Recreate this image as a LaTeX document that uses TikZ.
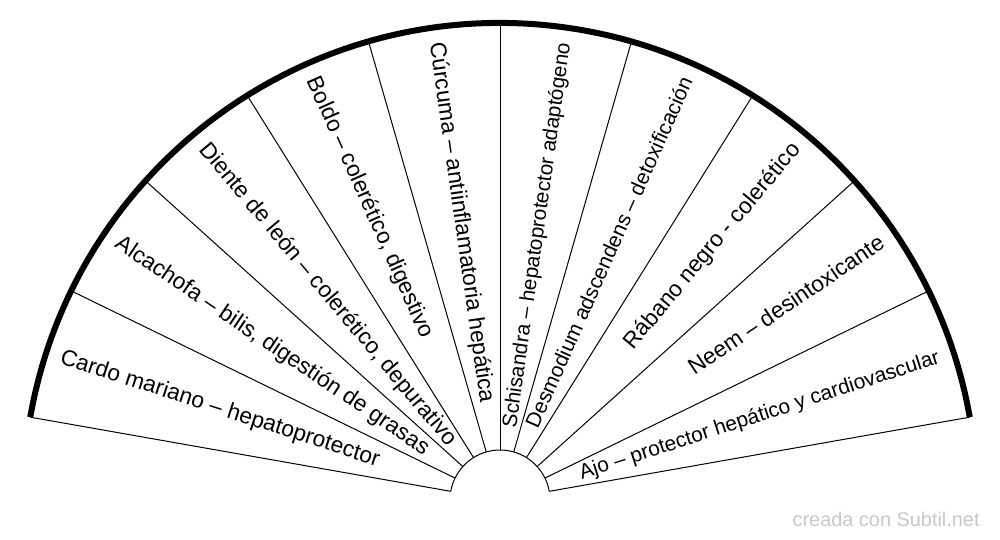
\documentclass[tikz,border=0pt]{standalone}
\usepackage{fontspec}
\setmainfont{Liberation Sans}
\tikzset{
  lbl/.style={inner sep=0pt,text height=0.8em,text depth=0.2em,font=\fontsize{11.35}{13}\selectfont},
  lblleft/.style={lbl,anchor=west},
  lblright/.style={lbl,anchor=east},
  radial/.style={line width=0.5pt}
}
\begin{document}
\begin{tikzpicture}[x=0.5pt,y=0.5pt]
                        \useasboundingbox (-500,-40) rectangle (500,500);
                        \draw[radial] (10:50) -- (10:477);
                        \draw[radial] (26:50) -- (26:477);
                        \draw[radial] (42:50) -- (42:477);
                        \draw[radial] (58:50) -- (58:477);
                        \draw[radial] (74:50) -- (74:477);
                        \draw[radial] (90:50) -- (90:477);
                        \draw[radial] (106:50) -- (106:477);
                        \draw[radial] (122:50) -- (122:477);
                        \draw[radial] (138:50) -- (138:477);
                        \draw[radial] (154:50) -- (154:477);
                        \draw[radial] (170:50) -- (170:477);
                        \draw[radial] (170:50) arc[start angle=170,end angle=10,radius=50];
                        \draw[line width=3pt] (170:477) arc[start angle=170,end angle=10,radius=477];
                        % plantas
                        \node[lblleft,rotate=-18] (cardo) at (162:462) {Cardo mariano – hepatoprotector};
                        \node[lblleft,rotate=-34] (alcachofa) at (146:462) {Alcachofa – bilis, digestión de grasas};
                        \node[lblleft,rotate=-50] (diente) at (130:462) {Diente de león – colerético, depurativo};
                        \node[lblleft,rotate=-66] (boldo) at (114:462) {Boldo – colerético, digestivo};
                        \node[lblleft,rotate=-82] (curcuma) at (98:462) {Cúrcuma – antiinflamatoria hepática};
                        \node[lblright,rotate=82,font=\fontsize{10.4}{12}\selectfont] (schisandra) at (82:462) {Schisandra – hepatoprotector adaptógeno};
                        \node[lblright,rotate=66,font=\fontsize{10.5}{12}\selectfont] (desmodium) at (66:462) {Desmodium adscendens – detoxificación};
                        \node[lblright,rotate=50] (rabano) at (50:462) {Rábano negro - colerético};
                        \node[lblright,rotate=34] (neem) at (34:462) {Neem – desintoxicante};
                        \node[lblright,rotate=18,font=\fontsize{10.45}{12}\selectfont] (ajo) at (18:462) {Ajo – protector hepático y cardiovascular};
                        \node[anchor=base east,inner sep=0pt,text=black!22,font=\fontsize{9.95}{12}\selectfont] (firma) at (480,-26) {creada con Subtil.net};
                    \end{tikzpicture}
\end{document}
